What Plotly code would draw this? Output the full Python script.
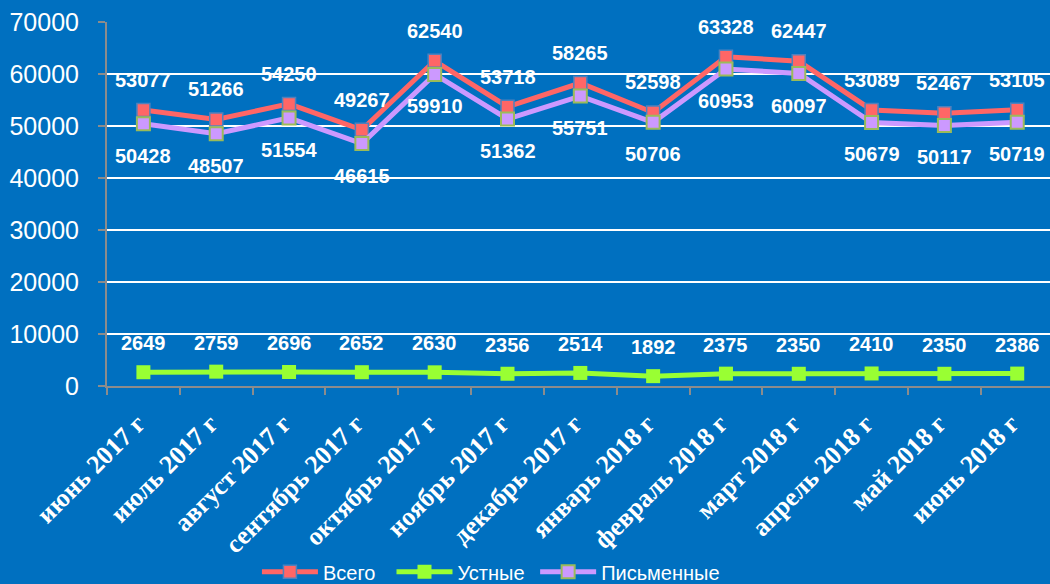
import plotly.graph_objects as go

months = ["июнь 2017 г", "июль 2017 г", "август 2017 г", "сентябрь 2017 г",
          "октябрь 2017 г", "ноябрь 2017 г", "декабрь 2017 г", "январь 2018 г",
          "февраль 2018 г", "март 2018 г", "апрель 2018 г", "май 2018 г",
          "июнь 2018 г"]
total = [53077, 51266, 54250, 49267, 62540, 53718, 58265, 52598, 63328,
         62447, 53089, 52467, 53105]
oral = [2649, 2759, 2696, 2652, 2630, 2356, 2514, 1892, 2375, 2350, 2410,
        2350, 2386]
written = [50428, 48507, 51554, 46615, 59910, 51362, 55751, 50706, 60953,
           60097, 50679, 50117, 50719]
y_ticks = [0, 10000, 20000, 30000, 40000, 50000, 60000, 70000]

BG = "#0070C0"
AXIS = "#8C8C8C"
NB = "\u00a0"  # padding after legend labels to widen the gap between entries

series = [
    ("Всего", total, "#FF6666", dict(color="#FF6666", size=13, symbol="square",
                                      line=dict(color="#4F81BD", width=1.5)), 30, 2),
    ("Устные", oral, "#99FF33", dict(color="#99FF33", size=14, symbol="square",
                                      line=dict(width=0)), 29, 1),
    ("Письменные", written, "#CC99FF", dict(color="#CC99FF", size=13, symbol="square",
                                             line=dict(color="#9BBB59", width=2)), -32, 0),
]

fig = go.Figure()
annotations = []
for name, vals, color, marker, shift, pad in series:
    fig.add_trace(go.Scatter(
        x=months, y=vals, name=name + NB * pad, mode="lines+markers",
        line=dict(color=color, width=5), marker=marker,
    ))
    for m, v in zip(months, vals):
        annotations.append(dict(
            x=m, y=v, xref="x", yref="y", text=str(v), showarrow=False,
            yshift=shift,
            font=dict(family="Liberation Sans, Arial", size=20, color="white",
                      weight="bold"),
        ))

fig.update_layout(
    width=1050, height=584,
    paper_bgcolor=BG, plot_bgcolor=BG,
    margin=dict(l=107, r=0, t=22, b=198, autoexpand=False),
    showlegend=True,
    legend=dict(orientation="h", x=0.159, xanchor="left",
                yref="container", y=0.021, yanchor="middle",
                bgcolor="rgba(0,0,0,0)", itemwidth=56,
                font=dict(family="Liberation Sans, Arial", size=20, color="white")),
    annotations=annotations,
)
fig.update_xaxes(
    type="category", range=[-0.5, 12.45], automargin=False,
    tickangle=-45, tickson="boundaries", ticks="outside", ticklen=7,
    tickcolor=AXIS, tickwidth=2, ticklabelstandoff=10, ticklabelshift=-6,
    showline=True, linecolor=AXIS, linewidth=2, showgrid=False,
    tickfont=dict(family="Liberation Serif, Times New Roman", size=26,
                  color="white", weight="bold"),
)
fig.update_yaxes(
    range=[0, 70000], tickvals=y_ticks, tickformat="d", automargin=False,
    ticks="outside", ticklen=7, tickcolor=AXIS, tickwidth=2,
    ticklabelstandoff=14,
    showline=True, linecolor=AXIS, linewidth=2,
    showgrid=True, gridcolor="white", gridwidth=2, zeroline=False,
    tickfont=dict(family="Liberation Sans, Arial", size=25, color="white"),
)

fig.write_html("out.html")
